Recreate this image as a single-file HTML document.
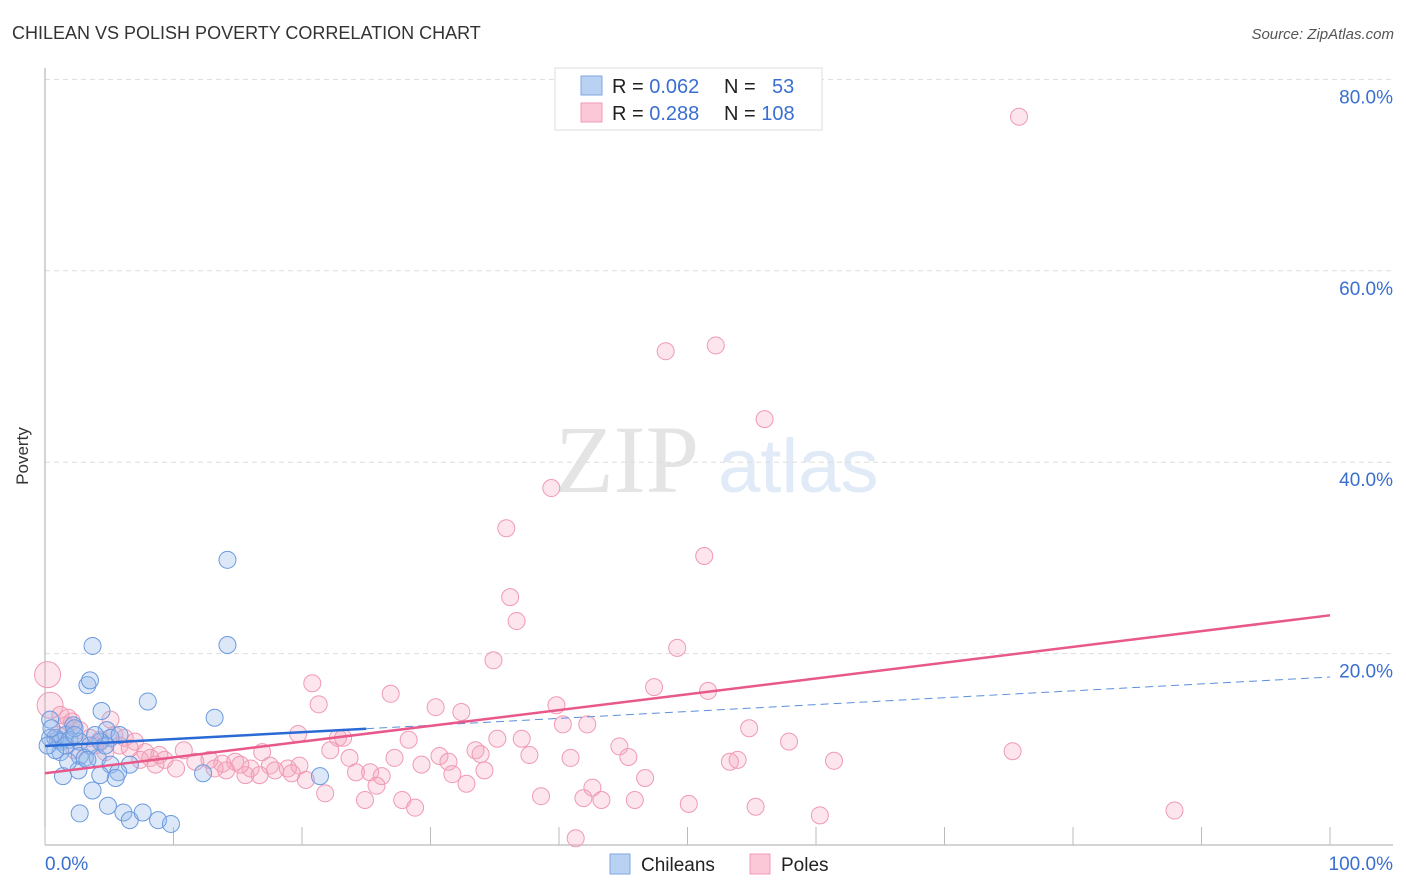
<!DOCTYPE html>
<html><head><meta charset="utf-8"><style>
body{margin:0;background:#fff;font-family:"Liberation Sans",sans-serif;}
svg{display:block}
</style></head><body>
<svg id="chart" width="1406" height="892">
<text x="12" y="39" font-size="18" fill="#333">CHILEAN VS POLISH POVERTY CORRELATION CHART</text>
<text x="1394" y="39" font-size="15" fill="#555" font-style="italic" text-anchor="end">Source: ZipAtlas.com</text>
<g>
<text x="555" y="492" font-size="96" font-family="Liberation Serif,serif" fill="#e4e4e4">ZIP</text>
<text x="718" y="492" font-size="76" fill="#e1eaf7">atlas</text>
</g>
<g id="grid"></g>
<g id="axes"></g>
<g id="points"></g>
<g id="trends"></g>
<text x="28" y="456" font-size="17" fill="#333" transform="rotate(-90 28 456)" text-anchor="middle">Poverty</text>
<g>
<rect x="555" y="68" width="267" height="62" fill="#fff" stroke="#ddd"/>
<rect x="581" y="76" width="21" height="19" fill="#b9d1f3" stroke="#7fa7e0"/>
<rect x="581" y="103" width="21" height="19" fill="#fbc8d7" stroke="#f09ab4"/>
<text x="612" y="93" font-size="20" fill="#222">R = <tspan fill="#3a6fd0">0.062</tspan></text>
<text x="724" y="93" font-size="20" fill="#222">N = <tspan fill="#3a6fd0" x="772">53</tspan></text>
<text x="612" y="120" font-size="20" fill="#222">R = <tspan fill="#3a6fd0">0.288</tspan></text>
<text x="724" y="120" font-size="20" fill="#222">N = <tspan fill="#3a6fd0">108</tspan></text>
</g>
<g>
<rect x="610" y="854" width="20" height="20" fill="#b9d1f3" stroke="#7fa7e0"/>
<text x="641" y="871" font-size="19" fill="#222">Chileans</text>
<rect x="750" y="854" width="20" height="20" fill="#fbc8d7" stroke="#f09ab4"/>
<text x="781" y="871" font-size="19" fill="#222">Poles</text>
</g>
</svg>
<script>
const yTicks=[20,40,60,80];
const yTickLabels=["20.0%","40.0%","60.0%","80.0%"];
const xTicks=[0,10,20,30,40,50,60,70,80,90,100];
const chileX=[3.7,14.2,14.2,3.3,3.5,8.0,4.4,13.2,2.2,4.8,1.0,1.6,0.4,0.8,1.2,1.9,2.7,5.1,4.3,2.7,1.2,3.1,4.1,5.1,6.6,5.7,5.5,2.6,1.4,3.7,4.9,2.7,6.1,6.6,7.6,8.8,9.8,12.3,21.4,0.4,2.3,1.6,3.5,4.7,3.9,5.8,2.3,0.8,1.8,3.3,4.3,0.2,0.5];
const chileY=[20.8,29.8,20.9,16.7,17.2,15.0,14.0,13.3,12.5,12.0,11.0,11.5,11.2,11.2,10.8,11.0,10.8,11.2,10.8,9.3,9.7,9.1,9.1,8.4,8.4,7.6,7.0,7.8,7.2,5.7,4.1,3.3,3.4,2.6,3.4,2.6,2.2,7.5,7.2,13.1,12.2,10.4,10.4,10.4,11.5,11.5,11.5,9.9,8.7,8.9,7.3,10.4,12.2];
const polesX=[75.8,52.2,48.3,56.0,39.4,35.9,51.3,36.2,36.7,49.2,34.9,20.8,47.4,51.6,26.9,21.3,30.4,32.4,39.8,40.3,42.2,54.8,19.7,22.8,23.2,28.3,35.2,37.1,57.9,75.3,44.7,33.5,22.2,16.9,10.8,30.7,33.9,37.7,40.9,45.4,23.7,27.2,31.4,29.3,53.3,53.9,61.4,8.2,9.3,11.7,12.8,13.8,14.8,16.0,17.5,18.9,19.8,10.2,15.6,14.1,19.2,24.2,25.3,26.2,31.7,34.2,46.7,20.3,25.8,32.8,42.6,21.8,38.6,24.9,27.8,41.9,43.3,45.9,50.1,55.3,87.9,60.3,28.8,41.3,0.2,0.4,1.2,2.1,1.6,2.7,3.5,4.3,5.4,6.2,7.0,5.8,4.7,7.8,8.9,6.6,1.0,2.3,3.9,7.4,8.6,13.2,15.2,17.9,16.7,5.1,1.8];
const polesY=[76.1,52.2,51.6,44.5,37.3,33.1,30.2,25.9,23.4,20.6,19.3,16.9,16.5,16.1,15.8,14.7,14.4,13.9,14.6,12.6,12.6,12.2,11.6,11.2,11.2,11.0,11.1,11.1,10.8,9.8,10.3,9.9,9.9,9.7,9.9,9.3,9.5,9.4,9.1,9.2,9.1,9.1,8.7,8.4,8.7,8.9,8.8,9.1,8.9,8.7,8.9,8.5,8.7,8.0,8.3,8.0,8.3,8.0,7.3,7.8,7.5,7.6,7.6,7.2,7.4,7.8,7.0,6.8,6.2,6.4,6.0,5.4,5.1,4.7,4.7,4.9,4.7,4.7,4.3,4.0,3.6,3.1,3.9,0.7,17.8,14.6,13.6,12.9,12.5,12.0,11.2,11.0,11.5,11.2,10.8,10.4,9.7,9.7,9.4,10.1,11.5,9.9,10.4,8.9,8.4,8.0,8.4,7.8,7.3,13.1,13.3];
const blueTrend=[10.35,17.55];
const pinkTrend=[7.5,24.0];
const blueSolidEnd=25;

const NS="http://www.w3.org/2000/svg";
const X=v=>45+v*12.85, Y=v=>845-v*9.57;
function mk(tag,attrs,parent){const e=document.createElementNS(NS,tag);for(const k in attrs)e.setAttribute(k,attrs[k]);document.getElementById(parent).appendChild(e);return e;}
yTicks.forEach((t,i)=>{
 const g=mk('line',{x1:45,x2:1393,y1:Y(t),y2:Y(t),stroke:'#ddd','stroke-dasharray':'5,4'},'grid');
 
 
 const l=mk('text',{x:1393,y:Y(t)+24,'text-anchor':'end','font-size':19,fill:'#3a6fd0'},'grid');
 l.textContent=yTickLabels[i];
 
 
});
const ax=mk('line',{x1:45,x2:45,y1:68,y2:845,stroke:'#aaa'},'axes');


const xa=mk('line',{x1:45,x2:1393,y1:845,y2:845,stroke:'#aaa'},'axes');


xTicks.forEach(t=>{
 const tk=mk('line',{x1:X(t),x2:X(t),y1:845,y2:827,stroke:'#bbb'},'axes');
 
 
});
const xl0=mk('text',{x:45,y:870,'font-size':19,fill:'#3a6fd0'},'axes');xl0.textContent='0.0%';


const xl1=mk('text',{x:1393,y:870,'font-size':19,fill:'#3a6fd0','text-anchor':'end'},'axes');xl1.textContent='100.0%';


polesX.forEach((v,i)=>{
 const big=(v<0.5&&polesY[i]>14);
 const c=mk('circle',{cx:X(v),cy:Y(polesY[i]),r:big?13:8.5,fill:'rgba(246,160,188,0.28)',stroke:'#f09ab4','stroke-width':1},'points');
 
 
});
chileX.forEach((v,i)=>{
 const c=mk('circle',{cx:X(v),cy:Y(chileY[i]),r:8.5,fill:'rgba(150,185,235,0.33)',stroke:'#6b9ae0','stroke-width':1},'points');
 
 
});
const bAt=x=>blueTrend[0]+(blueTrend[1]-blueTrend[0])*x/100;
const t1=mk('line',{x1:X(0),y1:Y(bAt(0)),x2:X(blueSolidEnd),y2:Y(bAt(blueSolidEnd)),stroke:'#2a6ad6','stroke-width':2.5},'trends');


const t2=mk('line',{x1:X(blueSolidEnd),y1:Y(bAt(blueSolidEnd)),x2:X(100),y2:Y(bAt(100)),stroke:'#5b8fdc','stroke-width':1,'stroke-dasharray':'8,5'},'trends');


const t3=mk('line',{x1:X(0),y1:Y(pinkTrend[0]),x2:X(100),y2:Y(pinkTrend[1]),stroke:'#e8588a','stroke-width':2.5},'trends');


</script>
</body></html>
